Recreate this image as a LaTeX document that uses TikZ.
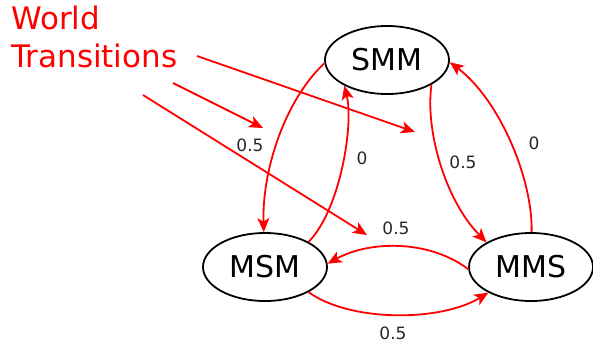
\documentclass[tikz,border=0pt]{standalone}
\usepackage{fontspec}
\setmainfont{DejaVu Sans}
\usetikzlibrary{arrows.meta,shapes.geometric}
\begin{document}
\begin{tikzpicture}[x=1bp,y=-1bp,
  state/.style={ellipse, draw=black, line width=1.8bp, minimum width=124bp, minimum height=68bp, inner sep=0pt, font=\fontsize{30bp}{36bp}\selectfont},
  tr/.style={draw=red, line width=1.8bp, -{Stealth[length=14bp,width=12bp,inset=3.5bp]}},
  lbl/.style={font=\fontsize{17bp}{20bp}\selectfont, text=black!85, inner sep=0pt},
  title/.style={font=\fontsize{31bp}{38bp}\selectfont, text=red, align=left, inner sep=0pt}]
\useasboundingbox (0,0) rectangle (593,345);

\node[state] (smm) at (387,60) {SMM};
\node[state] (msm) at (265,267) {MSM};
\node[state] (mms) at (531,267) {MMS};

\node[title, anchor=north west] (wt) at (11,6) {World\\Transitions};

\coordinate (s1) at (197,56);  \coordinate (e1) at (415,132);
\coordinate (s2) at (173,83);  \coordinate (e2) at (263,128);
\coordinate (s3) at (143,95);  \coordinate (e3) at (367,235);
\draw[tr] (s1) -- (e1);
\draw[tr] (s2) -- (e2);
\draw[tr] (s3) -- (e3);

\draw[tr] (smm.183) .. controls (285,100) and (262,170) .. (msm.92);
\draw[tr] (msm.30) .. controls (340,210) and (354,125) .. (smm.211);
\draw[tr] (smm.331) .. controls (425,130) and (445,200) .. (mms.151);
\draw[tr] (mms.89) .. controls (533,180) and (500,100) .. (smm.358);
\draw[tr] (mms.182) .. controls (430,240) and (370,240) .. (msm.3);
\draw[tr] (msm.-30) .. controls (350,322) and (440,322) .. (mms.211);

\node[lbl] (l1) at (250,145) {0.5};
\node[lbl] (l2) at (362,158) {0};
\node[lbl] (l3) at (463,162) {0.5};
\node[lbl] (l4) at (534,143) {0};
\node[lbl] (l5) at (396,228) {0.5};
\node[lbl] (l6) at (393,333) {0.5};
\end{tikzpicture}
\end{document}
